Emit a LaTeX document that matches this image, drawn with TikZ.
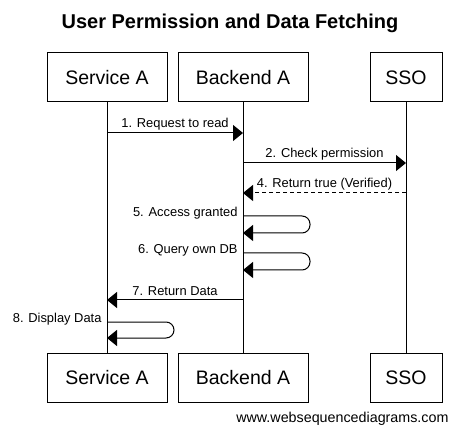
\documentclass[tikz,border=0pt]{standalone}
\usepackage{fontspec}
\setmainfont{Liberation Sans}
\usetikzlibrary{arrows.meta}

\tikzset{
  actor/.style={draw, line width=1pt, minimum height=49pt, inner sep=0pt,
                font=\fontsize{19.5}{20}\selectfont},
  msg/.style={font=\fontsize{12.9}{13}\selectfont, inner sep=0pt},
  selfmsg/.style={->, rounded corners=8pt}
}

\begin{document}
\begin{tikzpicture}[x=1pt,y=-1pt,line width=1pt,
    >={Triangle[length=10pt,width=16pt]}]

  \useasboundingbox (0,0) rectangle (460,435);

  % lebensllinien x
  \def\Sx{107};
  \def\Bx{243};
  \def\Ox{406};

  \node[anchor=base, font=\fontsize{20}{22}\selectfont\bfseries] (title)
       at (230,29) {User Permission and Data Fetching};

  % obere und untere boxen
  \node[actor, minimum width=120pt] (srvTop) at (\Sx,77.5) {Service A};
  \node[actor, minimum width=130pt] (bckTop) at (\Bx,77.5) {Backend A};
  \node[actor, minimum width=72pt]  (ssoTop) at (\Ox,77.5) {SSO};
  \node[actor, minimum width=120pt] (srvBot) at (\Sx,377.5) {Service A};
  \node[actor, minimum width=130pt] (bckBot) at (\Bx,377.5) {Backend A};
  \node[actor, minimum width=72pt]  (ssoBot) at (\Ox,377.5) {SSO};

  \draw (srvTop)--(srvBot);
  \draw (bckTop)--(bckBot);
  \draw (ssoTop)--(ssoBot);

  % punkte auf den lebenslinien
  \coordinate (s1) at (\Sx,133);
  \coordinate (b1) at (\Bx,133);
  \coordinate (b2) at (\Bx,163);
  \coordinate (o2) at (\Ox,163);
  \coordinate (o4) at (\Ox,193);
  \coordinate (b4) at (\Bx,193);
  \coordinate (b5a) at (\Bx,216);
  \coordinate (b5b) at (\Bx,233);
  \coordinate (b6a) at (\Bx,253);
  \coordinate (b6b) at (\Bx,270);
  \coordinate (b7) at (\Bx,300);
  \coordinate (s7) at (\Sx,300);
  \coordinate (s8a) at (\Sx,322);
  \coordinate (s8b) at (\Sx,338);

  \draw[->] (s1)--(b1);
  \node[msg, anchor=base] (m1) at ({(\Sx+\Bx)/2},128) {1. Request to read};

  \draw[->] (b2)--(o2);
  \node[msg, anchor=base] (m2) at ({(\Bx+\Ox)/2},158) {2. Check permission};

  \draw[->, dashed, dash pattern=on 4pt off 3pt] (o4)--(b4);
  \node[msg, anchor=base] (m4) at ({(\Bx+\Ox)/2},188) {4. Return true (Verified)};

  \draw[selfmsg] (b5a)--([xshift=67pt]b5a)--([xshift=67pt]b5b)--(b5b);
  \node[msg, anchor=base east] (m5) at ([shift={(-5,1)}]b5a) {5. Access granted};

  \draw[selfmsg] (b6a)--([xshift=67pt]b6a)--([xshift=67pt]b6b)--(b6b);
  \node[msg, anchor=base east] (m6) at ([shift={(-5,1)}]b6a) {6. Query own DB};

  \draw[->] (b7)--(s7);
  \node[msg, anchor=base] (m7) at ({(\Sx+\Bx)/2},295) {7. Return Data};

  \draw[selfmsg] (s8a)--([xshift=67pt]s8a)--([xshift=67pt]s8b)--(s8b);
  \node[msg, anchor=base east] (m8) at ([shift={(-5,1)}]s8a) {8. Display Data};

  \node[anchor=base east, font=\fontsize{14.3}{15}\selectfont, inner sep=0pt]
       (wsd) at (449,422) {www.websequencediagrams.com};

\end{tikzpicture}
\end{document}
